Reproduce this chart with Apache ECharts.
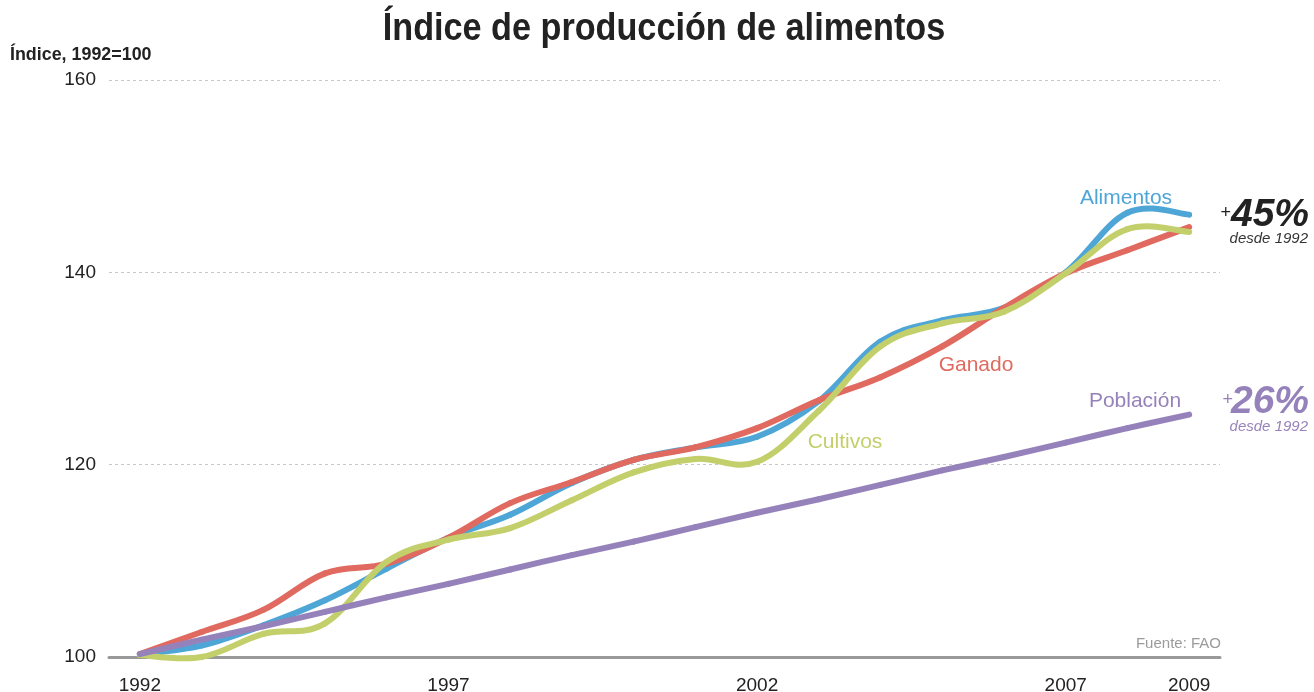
<!DOCTYPE html>
<html>
<head>
<meta charset="utf-8">
<script src="https://cdn.jsdelivr.net/npm/echarts@6/dist/echarts.min.js"></script>
<style>
  html, body { margin: 0; padding: 0; background: #fff; }
  #chart { width: 1314px; height: 692px; }
</style>
</head>
<body>
<div id="chart"></div>
<script>
// Índice de producción mundial de alimentos (FAO), 1992 = 100
const years = ['1992','1993','1994','1995','1996','1997','1998','1999','2000',
               '2001','2002','2003','2004','2005','2006','2007','2008','2009'];
const shownYears = ['1992','1997','2002','2007','2009'];
const yTicks = { min: 100, max: 160, step: 20 };

const alimentos = [100.3, 101.2, 103.3, 105.9, 109.2, 112.4, 114.8, 118.1, 120.5,
                   121.8, 122.9, 126.6, 132.8, 135.0, 136.3, 140.0, 146.2, 146.0];
const ganado    = [100.3, 102.6, 104.9, 108.7, 109.7, 112.4, 116.0, 118.2, 120.5,
                   121.8, 123.8, 126.7, 129.1, 132.3, 136.3, 139.9, 142.3, 144.7];
const cultivos  = [100.2, 100.0, 102.4, 103.5, 109.9, 112.2, 113.4, 116.3, 119.2,
                   120.6, 120.3, 125.6, 132.3, 134.7, 135.9, 139.9, 144.5, 144.2];
const poblacion = [100.3, 101.8, 103.2, 104.7, 106.2, 107.6, 109.1, 110.6, 112.0,
                   113.5, 115.0, 116.4, 117.9, 119.4, 120.8, 122.3, 123.8, 125.2];

const COLORS = {
  alimentos: '#4ea6d7',
  ganado: '#e06a5f',
  cultivos: '#c3cf6a',
  poblacion: '#9682bb'
};

const SANS = '"Liberation Sans", Arial, Helvetica, sans-serif';
const TENSION = 1 / 5.5;

// Each item draws the cubic segment from point i to point i+1 (Catmull-Rom
// tangents taken from the neighbouring points), positioned via api.coord.
function splineSeries(name, values, color) {
  return {
    name: name,
    type: 'custom',
    data: values.map(function (v, i) { return [i, v]; }),
    encode: { x: 0, y: 1 },
    animation: false,
    silent: true,
    renderItem: function (params, api) {
      const i = params.dataIndex;
      const n = values.length;
      if (i >= n - 1) return null;
      const pt = function (k) {
        k = Math.max(0, Math.min(n - 1, k));
        return api.coord([k, values[k]]);
      };
      const p0 = pt(i - 1), p1 = pt(i), p2 = pt(i + 1), p3 = pt(i + 2);
      const c1 = [p1[0] + (p2[0] - p0[0]) * TENSION, p1[1] + (p2[1] - p0[1]) * TENSION];
      const c2 = [p2[0] - (p3[0] - p1[0]) * TENSION, p2[1] - (p3[1] - p1[1]) * TENSION];
      return {
        type: 'bezierCurve',
        shape: {
          x1: p1[0], y1: p1[1],
          cpx1: c1[0], cpy1: c1[1],
          cpx2: c2[0], cpy2: c2[1],
          x2: p2[0], y2: p2[1]
        },
        style: { stroke: color, lineWidth: 6, fill: null, lineCap: 'round', lineJoin: 'round' }
      };
    }
  };
}

function label(text, x, y, color, font, align, extra) {
  return Object.assign({
    type: 'text', x: x, y: y, silent: true,
    style: { text: text, fill: color, font: font, textAlign: align || 'center', textVerticalAlign: 'middle' }
  }, extra || {});
}

const chart = echarts.init(document.getElementById('chart'), null, { renderer: 'canvas' });

chart.setOption({
  backgroundColor: '#ffffff',
  grid: { left: 109, right: 94, top: 80, bottom: 35, outerBoundsMode: 'none', containLabel: false },
  xAxis: {
    type: 'category',
    data: years,
    boundaryGap: true,
    axisLine: { show: true, lineStyle: { color: '#999', width: 3 } },
    axisTick: { show: false },
    axisLabel: {
      interval: function (idx, val) { return shownYears.indexOf(val) !== -1; },
      margin: 19,
      fontFamily: SANS,
      fontSize: 19,
      color: '#222'
    },
    splitLine: { show: false }
  },
  yAxis: {
    type: 'value',
    min: yTicks.min,
    max: yTicks.max,
    interval: yTicks.step,
    axisLine: { show: false },
    axisTick: { show: false },
    axisLabel: { margin: 13, fontFamily: SANS, fontSize: 19, color: '#222' },
    splitLine: { show: true, lineStyle: { color: '#c8c8c8', width: 1, type: [3, 3] } }
  },
  series: [
    splineSeries('Alimentos', alimentos, COLORS.alimentos),
    splineSeries('Ganado', ganado, COLORS.ganado),
    splineSeries('Cultivos', cultivos, COLORS.cultivos),
    splineSeries('Población', poblacion, COLORS.poblacion)
  ],
  graphic: [
    // headline and axis caption, set slightly condensed
    label('Índice de producción de alimentos', 664, 30, '#222', 'bold 38px ' + SANS, 'center', { scaleX: 0.9 }),
    label('Índice, 1992=100', 10, 55, '#222', 'bold 19px ' + SANS, 'left', { scaleX: 0.94 }),

    label('Alimentos', 1126, 198, COLORS.alimentos, '21px ' + SANS),
    label('Ganado', 976, 365, COLORS.ganado, '21px ' + SANS),
    label('Población', 1135, 401, COLORS.poblacion, '21px ' + SANS),
    label('Cultivos', 845, 442, COLORS.cultivos, '21px ' + SANS),

    label('+', 1231, 213, '#222', '18px ' + SANS, 'right'),
    label('45%', 1309, 215, '#222', 'italic bold 39px ' + SANS, 'right'),
    label('desde 1992', 1308, 239, '#333', 'italic 15px ' + SANS, 'right'),

    label('+', 1233, 400, COLORS.poblacion, '18px ' + SANS, 'right'),
    label('26%', 1309, 402, COLORS.poblacion, 'italic bold 39px ' + SANS, 'right'),
    label('desde 1992', 1308, 427, COLORS.poblacion, 'italic 15px ' + SANS, 'right'),

    label('Fuente: FAO', 1221, 644, '#9a9a9a', '15px ' + SANS, 'right')
  ]
});
</script>
</body>
</html>
